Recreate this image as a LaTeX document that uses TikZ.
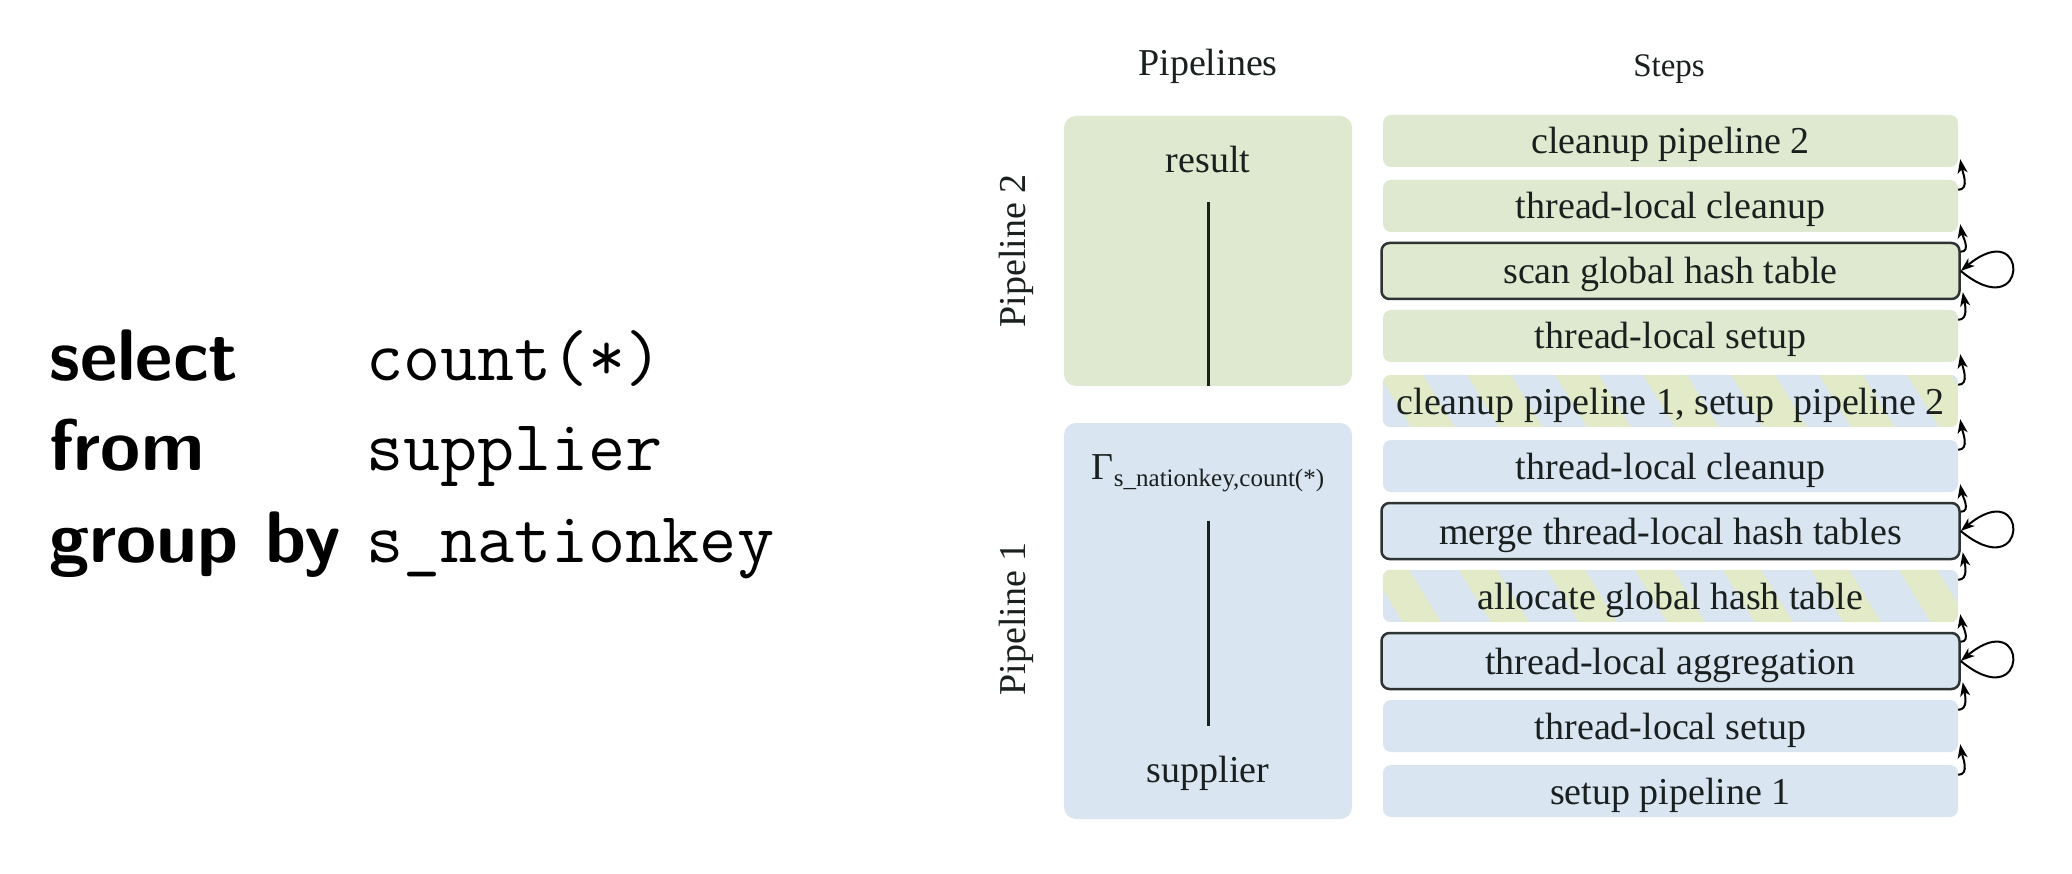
\documentclass[tikz,border=0pt]{standalone}
\usepackage{fontspec}
\setmainfont{Liberation Serif}
\usetikzlibrary{arrows.meta,calc}
\pgfdeclarelayer{background}
\pgfdeclarelayer{canvas}
\pgfsetlayers{canvas,background,main}
\definecolor{gfill}{HTML}{DFE9CF}
\definecolor{bfill}{HTML}{D9E5F0}
\definecolor{sgreen}{HTML}{E2EAC8}
\definecolor{ink}{HTML}{1A1F1F}
\definecolor{edge}{HTML}{2E3333}
\tikzset{
  stepbox/.style={minimum width=575pt, minimum height=52pt, inner sep=0pt,
    text height=30pt, text depth=4pt,
    rounded corners=8pt, text=ink, font=\fontsize{38}{44}\selectfont},
  loopbox/.style={stepbox, minimum width=578pt, minimum height=56pt, draw=edge, line width=2.5pt},
  pipebox/.style={minimum width=288pt, inner sep=0pt, rounded corners=12pt},
  ptext/.style={inner sep=0pt, text=ink, font=\fontsize{38}{44}\selectfont},
  pline/.style={line width=3pt, draw=ink},
  steparrow/.style={line width=2pt, draw=black, -{Stealth[length=14pt,width=10pt,inset=4pt]}},
  sqlkw/.style={inner sep=0pt, anchor=base west, font=\sffamily\bfseries\fontsize{73}{84}\selectfont},
  sqltt/.style={inner sep=0pt, anchor=base west, font=\ttfamily\fontsize{72}{84}\selectfont},
}
\begin{document}
\begin{tikzpicture}[x=1pt,y=1pt]
\useasboundingbox (0,0) rectangle (2072,-874);
\begin{pgfonlayer}{canvas}
\fill[white] (0,0) rectangle (2072,-874);
\end{pgfonlayer}

% SQL query
\node[sqlkw] (k1) at (49,-381) {select};
\node[sqlkw] (k2) at (49,-470) {from};
\node[sqlkw] (k3) at (49,-562) {group by};
\node[sqltt] (v1) at (366,-381) {count(*)};
\node[sqltt] (v2) at (366,-470) {supplier};
\node[sqltt] (v3) at (366,-562) {s\_nationkey};

% headers
\node[ptext] (hpipe) at (1208,-66) {Pipelines};
\node[ptext, font=\fontsize{33}{40}\selectfont] (hsteps) at (1669,-69) {Steps};

% pipelines
\node[pipebox, fill=gfill, minimum height=270pt] (p2) at (1208,-251) {};
\node[pipebox, fill=bfill, minimum height=396pt] (p1) at (1208,-621) {};
\node[ptext, rotate=90] (lp2) at (1016,-251) {Pipeline 2};
\node[ptext, rotate=90] (lp1) at (1016,-619) {Pipeline 1};
\node[ptext, anchor=base] (res) at (1208,-173) {result};
\node[ptext, anchor=base] (gam) at (1208,-479) {Γ\raisebox{-7pt}{\fontsize{25}{30}\selectfont s\_nationkey,count(*)}};
\node[ptext, anchor=base] (sup) at (1208,-782) {supplier};
\draw[pline, shorten <=28pt] (res.south) -- (p2.south);
\draw[pline, shorten <=29pt, shorten >=29pt] (gam.south) -- (sup.north);

% steps
\node[stepbox, fill=gfill] (s1) at (1670.5,-141) {cleanup pipeline 2};
\node[stepbox, fill=gfill] (s2) at (1670.5,-206) {thread-local cleanup};
\node[loopbox, fill=gfill] (s3) at (1670.5,-271) {scan global hash table};
\node[stepbox, fill=gfill] (s4) at (1670.5,-336) {thread-local setup};
\node[stepbox] (s5) at (1670.5,-401) {cleanup pipeline 1, setup\ \ pipeline 2};
\node[stepbox, fill=bfill] (s6) at (1670.5,-466) {thread-local cleanup};
\node[loopbox, fill=bfill] (s7) at (1670.5,-531) {merge thread-local hash tables};
\node[stepbox] (s8) at (1670.5,-596) {allocate global hash table};
\node[loopbox, fill=bfill] (s9) at (1670.5,-661) {thread-local aggregation};
\node[stepbox, fill=bfill] (s10) at (1670.5,-726) {thread-local setup};
\node[stepbox, fill=bfill] (s11) at (1670.5,-791) {setup pipeline 1};

% striped backgrounds
\begin{pgfonlayer}{background}
\begin{scope}
  \clip[rounded corners=8pt] (s5.south west) rectangle (s5.north east);
  \fill[sgreen] (s5.south west) rectangle (s5.north east);
  \foreach \k in {-1,...,7}
    \fill[bfill] ($(s5.north west)+(\k*88+40,0)$) -- ++(44,0) -- ++(32,-52) -- ++(-44,0) -- cycle;
\end{scope}
\begin{scope}
  \clip[rounded corners=8pt] (s8.south west) rectangle (s8.north east);
  \fill[bfill] (s8.south west) rectangle (s8.north east);
  \foreach \k in {-1,...,7}
    \fill[sgreen] ($(s8.north west)+(\k*88-12,0)$) -- ++(38,0) -- ++(32,-52) -- ++(-38,0) -- cycle;
\end{scope}
\end{pgfonlayer}

% transitions between steps
\foreach \i/\j in {2/1,3/2,4/3,5/4,6/5,7/6,8/7,9/8,10/9,11/10}
  \draw[steparrow] ([yshift=-10pt]s\i.north east) to[out=0,in=-80] ([xshift=2pt,yshift=8pt]s\j.south east);

% self loops
\foreach \n in {s3,s7,s9}
  \draw[steparrow] (\n.east) .. controls +(69,-57) and +(69,57) .. (\n.east);
\end{tikzpicture}
\end{document}
